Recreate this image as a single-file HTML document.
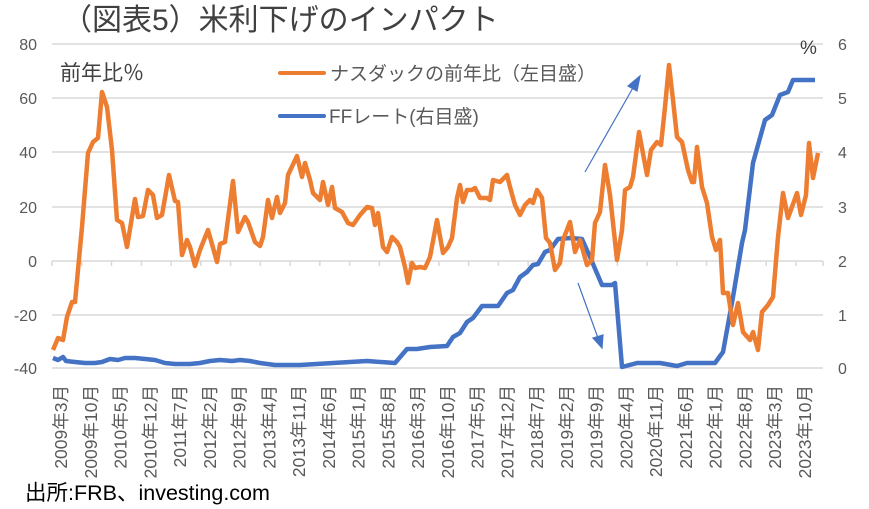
<!DOCTYPE html>
<html><head><meta charset="utf-8"><style>
body{margin:0;background:#fff;}
svg{display:block;font-family:"Liberation Sans","Noto Sans CJK JP",sans-serif;}
</style></head><body>
<svg width="869" height="509" viewBox="0 0 869 509" xmlns="http://www.w3.org/2000/svg">
<rect width="869" height="509" fill="#fff"/>
<text x="62" y="30" font-size="30" fill="#404040">（図表5）米利下げのインパクト</text>
<g stroke="#d9d9d9" stroke-width="1.5">
<line x1="52" y1="44" x2="823" y2="44"/><line x1="52" y1="98" x2="823" y2="98"/>
<line x1="52" y1="152" x2="823" y2="152"/><line x1="52" y1="207" x2="823" y2="207"/>
<line x1="52" y1="261" x2="823" y2="261"/><line x1="52" y1="315" x2="823" y2="315"/>
<line x1="52" y1="368" x2="823" y2="368"/>
</g>
<path stroke="#d9d9d9" stroke-width="1.5" d="M52 261v5M81.8 261v5M111.5 261v5M141.3 261v5M171 261v5M200.8 261v5M230.6 261v5M260.3 261v5M290.1 261v5M319.8 261v5M349.6 261v5M379.4 261v5M409.1 261v5M438.9 261v5M468.6 261v5M498.4 261v5M528.2 261v5M557.9 261v5M587.7 261v5M617.4 261v5M647.2 261v5M677 261v5M706.7 261v5M736.5 261v5M766.2 261v5M796 261v5M823 261v5"/>
<g font-size="16" fill="#595959" text-anchor="end">
<text x="37" y="50">80</text><text x="37" y="104">60</text><text x="37" y="158">40</text>
<text x="37" y="213">20</text><text x="37" y="267">0</text><text x="37" y="321">-20</text><text x="37" y="374">-40</text>
</g>
<g font-size="16" fill="#595959">
<text x="838" y="50">6</text><text x="838" y="104">5</text><text x="838" y="158">4</text>
<text x="838" y="213">3</text><text x="838" y="267">2</text><text x="838" y="321">1</text><text x="838" y="374">0</text>
</g>
<text x="800" y="54" font-size="19" fill="#404040">%</text>
<text x="60" y="80" font-size="21" fill="#404040">前年比％</text>
<line x1="280" y1="73" x2="324" y2="73" stroke="#ed7d31" stroke-width="4" stroke-linecap="round"/>
<text x="330" y="80" font-size="19" fill="#595959">ナスダックの前年比（左目盛）</text>
<line x1="280" y1="116" x2="324" y2="116" stroke="#4472c4" stroke-width="4" stroke-linecap="round"/>
<text x="329" y="123" font-size="19" fill="#595959">FFレート(右目盛)</text>
<polyline fill="none" stroke="#4472c4" stroke-width="4.5" stroke-linejoin="round" points="53,358 58,360 63,357 66,361 75,362 85,363 95,363 102,362 110,359 118,360 125,358 135,358 145,359 155,360 165,363 175,364 190,364 200,363 210,361 220,360 232,361 240,360 250,361 260,363 275,365 290,365 300,365 333,363 367,361 395,363 407,349 417,349 430,347 447,346 453,337 460,333 467,322 473,318 482,306 498,306 507,293 513,290 520,277 527,272 533,265 538,264 545,252 550,250 558,239 570,238 582,239 590,257 602,285 612,285 615,283 622,367 637,363 660,363 677,366 687,363 715,363 723,352 733,297 742,243 745,230 753,163 765,120 772,115 780,95 788,92 793,80 815,80"/>
<polyline fill="none" stroke="#ed7d31" stroke-width="4.5" stroke-linejoin="round" points="53,350 58,338 63,340 67,317 72,302 75,302 82,227 88,153 93,142 98,138 102,92 107,107 112,150 117,220 122,223 127,247 135,199 138,217 143,216 148,190 153,195 157,218 162,215 169,175 175,201 178,202 182,255 187,240 190,247 195,266 200,250 208,230 217,262 220,244 225,242 233,181 238,232 245,217 248,222 255,242 260,246 263,237 268,200 272,218 277,197 280,213 285,203 288,175 297,156 302,177 305,163 310,180 313,193 320,200 323,182 328,205 332,187 335,208 342,212 348,223 353,225 360,215 367,207 372,208 375,225 378,213 383,247 387,252 392,237 397,242 400,247 405,267 408,283 412,263 415,268 420,267 425,268 430,257 437,220 443,253 448,247 452,238 457,198 460,185 463,202 467,190 472,190 475,188 480,198 487,198 490,200 493,180 500,182 507,175 510,187 515,205 520,215 525,205 530,200 533,203 537,190 542,198 546,238 550,243 555,270 560,263 563,240 570,222 575,252 580,240 587,265 592,260 595,223 600,212 605,165 610,195 617,260 622,230 625,190 630,187 633,177 639,132 647,175 651,150 657,142 661,145 665,107 669,65 673,100 677,137 682,142 688,170 692,182 694,182 697,147 702,187 707,203 712,237 716,250 720,240 723,293 728,293 733,325 738,303 743,332 750,340 753,332 758,350 762,312 768,305 773,297 778,237 783,193 788,218 797,193 801,215 806,195 809,143 813,178 818,153"/>
<g stroke="#4472c4" stroke-width="1.2" fill="#4472c4">
<line x1="585" y1="172" x2="634" y2="86"/>
<polygon points="640,76 628,86 637,91"/>
<line x1="578" y1="283" x2="598" y2="338"/>
<polygon points="602,348 593,338 603,335"/>
</g>
<g font-size="17.5" fill="#595959" text-anchor="end">
<text transform="translate(67,385) rotate(-90)">2009年3月</text>
<text transform="translate(96.8,385) rotate(-90)">2009年10月</text>
<text transform="translate(126.5,385) rotate(-90)">2010年5月</text>
<text transform="translate(156.3,385) rotate(-90)">2010年12月</text>
<text transform="translate(186,385) rotate(-90)">2011年7月</text>
<text transform="translate(215.8,385) rotate(-90)">2012年2月</text>
<text transform="translate(245.6,385) rotate(-90)">2012年9月</text>
<text transform="translate(275.3,385) rotate(-90)">2013年4月</text>
<text transform="translate(305.1,385) rotate(-90)">2013年11月</text>
<text transform="translate(334.8,385) rotate(-90)">2014年6月</text>
<text transform="translate(364.6,385) rotate(-90)">2015年1月</text>
<text transform="translate(394.4,385) rotate(-90)">2015年8月</text>
<text transform="translate(424.1,385) rotate(-90)">2016年3月</text>
<text transform="translate(453.9,385) rotate(-90)">2016年10月</text>
<text transform="translate(483.6,385) rotate(-90)">2017年5月</text>
<text transform="translate(513.4,385) rotate(-90)">2017年12月</text>
<text transform="translate(543.2,385) rotate(-90)">2018年7月</text>
<text transform="translate(572.9,385) rotate(-90)">2019年2月</text>
<text transform="translate(602.7,385) rotate(-90)">2019年9月</text>
<text transform="translate(632.4,385) rotate(-90)">2020年4月</text>
<text transform="translate(662.2,385) rotate(-90)">2020年11月</text>
<text transform="translate(692,385) rotate(-90)">2021年6月</text>
<text transform="translate(721.7,385) rotate(-90)">2022年1月</text>
<text transform="translate(751.5,385) rotate(-90)">2022年8月</text>
<text transform="translate(781.2,385) rotate(-90)">2023年3月</text>
<text transform="translate(811,385) rotate(-90)">2023年10月</text>
</g>
<text x="25" y="500" font-size="21.5" fill="#000">出所:FRB、investing.com</text>
</svg>
</body></html>
